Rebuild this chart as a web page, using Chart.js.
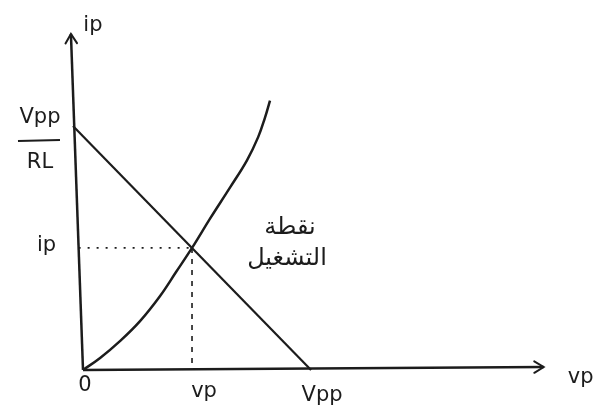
<!DOCTYPE html>
<html>
<head>
<meta charset="utf-8">
<title>Load line and operating point</title>
<script src="https://cdn.jsdelivr.net/npm/chart.js@4/dist/chart.umd.min.js"></script>
<style>
  html, body { margin: 0; padding: 0; background: #fff; }
  #wrap { width: 605px; height: 407px; position: relative; }
</style>
</head>
<body>
<div id="wrap"><canvas id="chart" width="605" height="407"></canvas></div>
<script>
// plate voltage vp (Vpp = 10) and plate current ip (Vpp/RL = 10)
const V_PP = 10;
const I_MAX = 10;

// tube characteristic ip(vp)
const curveV = [0, 0.75, 1.62, 2.50, 3.38, 4.08, 4.78, 5.57, 6.45, 7.19, 7.68, 7.98, 8.20];
const curveI = [0, 0.49, 1.18, 2.00, 3.03, 4.01, 5.00, 6.20, 7.48, 8.59, 9.54, 10.34, 11.04];

// load line, from Vpp/RL on the current axis down to Vpp
const loadV = [-0.44, V_PP];
const loadI = [I_MAX, 0];

// operating point
const qV = 4.78;
const qI = 5.0;

// hand-drawn axes (the current axis leans a little)
const axisXV = [0, 20.2];
const axisXI = [0, 0.12];
const axisYV = [0, -0.53];
const axisYI = [0, 13.77];

const INK = '#1c1c1c';

const pts = (xs, ys) => xs.map((x, i) => ({ x, y: ys[i] }));

// arrow heads on both axes + all the handwritten labels
const sketchPlugin = {
  id: 'sketch',
  afterDatasetsDraw(chart) {
    const ctx = chart.ctx;
    const sx = chart.scales.x, sy = chart.scales.y;

    [0, 1].forEach(idx => {
      const pts = chart.getDatasetMeta(idx).data;
      const a = pts[pts.length - 2], b = pts[pts.length - 1];
      const ang = Math.atan2(b.y - a.y, b.x - a.x);
      const len = 11;
      ctx.save();
      ctx.strokeStyle = INK;
      ctx.lineWidth = 2;
      ctx.lineCap = 'round';
      ctx.beginPath();
      ctx.moveTo(b.x - len * Math.cos(ang - 0.55), b.y - len * Math.sin(ang - 0.55));
      ctx.lineTo(b.x, b.y);
      ctx.lineTo(b.x - len * Math.cos(ang + 0.55), b.y - len * Math.sin(ang + 0.55));
      ctx.stroke();
      ctx.restore();
    });

    const px = v => sx.getPixelForValue(v);
    const py = i => sy.getPixelForValue(i);

    ctx.save();
    ctx.fillStyle = INK;
    ctx.textAlign = 'center';
    ctx.textBaseline = 'middle';
    ctx.font = '21px "DejaVu Sans"';

    // axis names
    ctx.fillText('ip', px(axisYV[1]) + 22, py(axisYI[1]) - 8);
    ctx.fillText('vp', px(axisXV[1]) + 37, py(0) + 8);

    // Vpp / RL fraction
    const fx = px(loadV[0]) - 33;
    ctx.fillText('Vpp', fx, py(I_MAX) - 8);
    ctx.fillText('RL', fx, py(I_MAX) + 37);
    ctx.lineWidth = 2;
    ctx.strokeStyle = INK;
    ctx.beginPath();
    ctx.moveTo(fx - 22, py(I_MAX) + 15);
    ctx.lineTo(fx + 20, py(I_MAX) + 14);
    ctx.stroke();

    // operating point projections and origin
    ctx.fillText('ip', px(-1.6), py(qI) - 2);
    ctx.fillText('0', px(0) + 2, py(0) + 16);
    ctx.fillText('vp', px(qV) + 12, py(0) + 22);
    ctx.fillText('Vpp', px(V_PP) + 11, py(0) + 26);

    // operating point label
    ctx.font = '24px "DejaVu Sans"';
    ctx.fillText('نقطة', px(qV) + 98, py(qI) - 20);
    ctx.fillText('التشغيل', px(qV) + 95, py(qI) + 11);
    ctx.restore();
  }
};

const line = (data, extra) => Object.assign({
  data,
  showLine: true,
  borderColor: INK,
  borderWidth: 2,
  pointRadius: 0,
  fill: false
}, extra);

new Chart(document.getElementById('chart'), {
  type: 'scatter',
  data: {
    datasets: [
      line(pts(axisXV, axisXI), { borderWidth: 2.5 }),
      line(pts(axisYV, axisYI), { borderWidth: 2.5 }),
      line(pts(loadV, loadI), { borderWidth: 2.2 }),
      line(pts(curveV, curveI), { borderWidth: 2.5, tension: 0.4 }),
      line(pts([axisYV[1] * qI / axisYI[1], qV], [qI, qI]), { borderWidth: 1.6, borderDash: [2, 7] }),
      line(pts([qV, qV], [qI, 0]), { borderWidth: 1.6, borderDash: [5, 6] })
    ]
  },
  options: {
    responsive: false,
    animation: false,
    events: [],
    layout: { padding: 0 },
    plugins: { legend: { display: false }, tooltip: { enabled: false } },
    scales: {
      x: { type: 'linear', display: false, min: -3.64, max: 22.89 },
      y: { type: 'linear', display: false, min: -1.52, max: 15.16 }
    }
  },
  plugins: [sketchPlugin]
});
</script>
</body>
</html>
